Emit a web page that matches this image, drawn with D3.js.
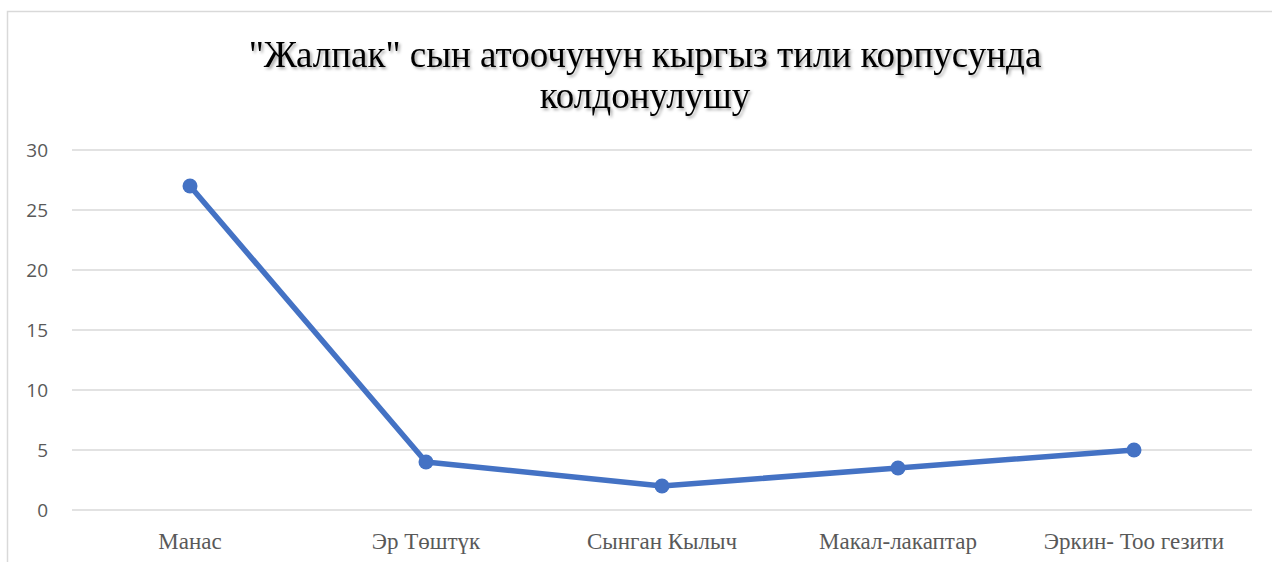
<!DOCTYPE html>
<html><head><meta charset="utf-8">
<script src="https://cdn.jsdelivr.net/npm/d3@7"></script>
<style>body{margin:0;background:#fff;}svg{display:block;}</style>
</head><body>
<script>
const categories = ["Манас", "Эр Төштүк", "Сынган Кылыч", "Макал-лакаптар", "Эркин- Тоо гезити"];
const values = [27, 4, 2, 3.5, 5];
const yTicks = [0, 5, 10, 15, 20, 25, 30];
const titleLines = ["\"Жалпак\" сын атоочунун кыргыз тили корпусунда", "колдонулушу"];

const W = 1272, H = 562;
const svg = d3.select("body").append("svg").attr("width", W).attr("height", H);
const defs = svg.append("defs");
const f = defs.append("filter").attr("id", "sh").attr("x", "-10%").attr("y", "-20%").attr("width", "120%").attr("height", "150%");
f.append("feDropShadow").attr("dx", 2).attr("dy", 2).attr("stdDeviation", 1.5).attr("flood-color", "#000").attr("flood-opacity", 0.35);

// chart border
svg.append("rect").attr("x", 7.5).attr("y", 11.5).attr("width", W + 20).attr("height", H + 20)
  .attr("fill", "none").attr("stroke", "#d9d9d9").attr("stroke-width", 1.5);

const x = d3.scaleBand().domain(categories).range([72, 1252]);
const y = d3.scaleLinear().domain([0, 30]).range([510, 150]);

// gridlines
svg.append("g").selectAll("line").data(yTicks).join("line")
  .attr("x1", 72).attr("x2", 1252)
  .attr("y1", d => y(d)).attr("y2", d => y(d))
  .attr("stroke", "#d9d9d9").attr("stroke-width", 1.3);

// y axis labels
const yAxis = d3.axisLeft(y).tickValues(yTicks).tickSize(0).tickPadding(0);
const gy = svg.append("g").attr("transform", "translate(48,0)").call(yAxis);
gy.select(".domain").remove();
gy.selectAll("text").attr("font-family", "'Open Sans', 'Noto Sans', sans-serif").attr("font-size", 19).attr("fill", "#595959");

// x axis labels
const xAxis = d3.axisBottom(x).tickSize(0).tickPadding(0);
const gx = svg.append("g").attr("transform", "translate(0,549)").call(xAxis);
gx.select(".domain").remove();
gx.selectAll("text").attr("font-family", "'Liberation Serif', 'Times New Roman', serif").attr("font-size", 23).attr("fill", "#595959").attr("dy", "0");

// line
const data = categories.map((c, i) => ({c, v: values[i]}));
const line = d3.line().x(d => x(d.c) + x.bandwidth() / 2).y(d => y(d.v));
svg.append("path").datum(data).attr("d", line).attr("fill", "none")
  .attr("stroke", "#4472C4").attr("stroke-width", 5.5).attr("stroke-linejoin", "round").attr("stroke-linecap", "round");
svg.append("g").selectAll("circle").data(data).join("circle")
  .attr("cx", d => x(d.c) + x.bandwidth() / 2).attr("cy", d => y(d.v)).attr("r", 7.5)
  .attr("fill", "#4472C4");

// title
svg.append("g").selectAll("text").data(titleLines).join("text")
  .attr("x", 645).attr("y", (d, i) => 67 + i * 41)
  .attr("text-anchor", "middle")
  .attr("font-family", "'Liberation Serif', 'Times New Roman', serif")
  .attr("font-size", 37).attr("fill", "#000").attr("filter", "url(#sh)")
  .text(d => d);
</script>
</body></html>
